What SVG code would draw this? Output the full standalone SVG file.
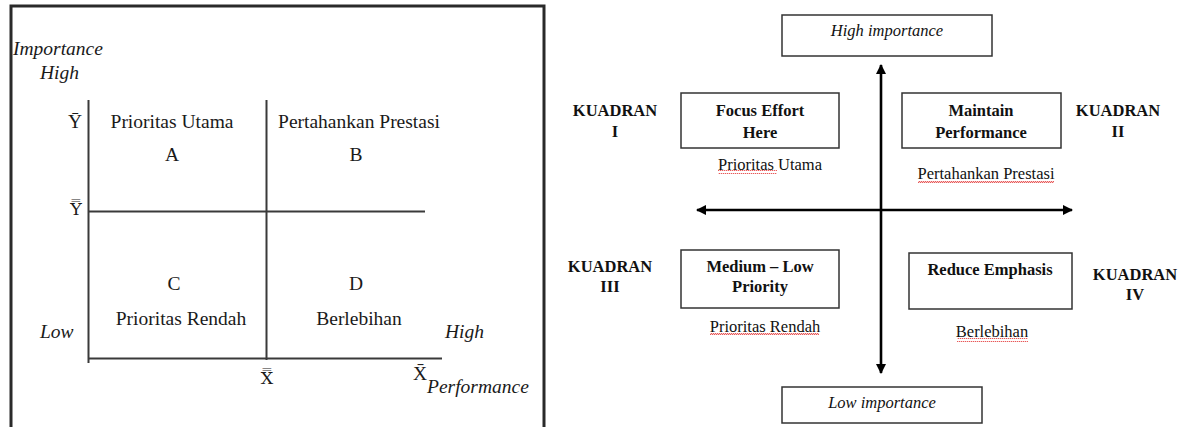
<svg xmlns="http://www.w3.org/2000/svg" width="1183" height="427" viewBox="0 0 1183 427">
<defs>
<style>
.ls{font-family:"Liberation Serif","Times New Roman",serif;font-size:19.5px;fill:#1a1a1a}
.dv{font-family:"DejaVu Serif",serif;font-size:17.5px;fill:#1a1a1a}
.it{font-style:italic}
.mid{text-anchor:middle}
.end{text-anchor:end}
.gl{stroke:#3a3a3a;stroke-width:2;fill:none}
.rs{font-family:"Liberation Serif","Times New Roman",serif;font-size:16.5px;fill:#111}
.b{font-weight:bold}
.box{fill:#fff;stroke:#333;stroke-width:1.5}
.ax{stroke:#000;stroke-width:2.6;fill:none}
.wv{fill:url(#wavy)}
</style>
<marker id="ah" viewBox="0 0 10 10" refX="9" refY="5" markerWidth="4" markerHeight="4" orient="auto-start-reverse" markerUnits="strokeWidth">
<path d="M0 0 L10 5 L0 10 Z" fill="#000"/>
</marker>
<pattern id="wavy" width="4" height="4" patternUnits="userSpaceOnUse">
<path d="M0 3 Q1 0.5 2 2 T4 1" stroke="#e02020" stroke-width="0.9" fill="none"/>
</pattern>
</defs>
<rect width="1183" height="427" fill="#fff"/>

<!-- Left panel -->
<g id="left-frame">
<path d="M11 427 V6 H544 V427" fill="none" stroke="#2a2a2a" stroke-width="3"/>
</g>
<g id="left-axes">
<line class="gl" x1="88.5" y1="100" x2="88.5" y2="363"/>
<line class="gl" x1="88" y1="358.5" x2="442" y2="358.5"/>
<line class="gl" x1="88" y1="211.5" x2="425" y2="211.5"/>
<line class="gl" x1="266.5" y1="100" x2="266.5" y2="360"/>
</g>
<g id="left-labels">
<text class="ls it" x="13" y="55">Importance</text>
<text class="ls it" x="40" y="79">High</text>
<text class="ls end" x="82" y="128">Ȳ</text>
<text class="dv mid" x="76" y="215">Y̿</text>
<text class="ls it" x="40" y="338">Low</text>
<text class="ls it" x="445" y="338">High</text>
<text class="dv mid" x="267" y="384">X̿</text>
<text class="ls" x="413" y="380">X̄</text>
<text class="ls it" x="427" y="393">Performance</text>
</g>
<g id="quad-A">
<text class="ls mid" x="172" y="128">Prioritas Utama</text>
<text class="ls mid" x="172" y="161">A</text>
</g>
<g id="quad-B">
<text class="ls mid" x="359" y="128">Pertahankan Prestasi</text>
<text class="ls mid" x="356" y="161">B</text>
</g>
<g id="quad-C">
<text class="ls mid" x="174" y="290">C</text>
<text class="ls mid" x="181" y="325">Prioritas Rendah</text>
</g>
<g id="quad-D">
<text class="ls mid" x="356" y="290">D</text>
<text class="ls mid" x="359" y="325">Berlebihan</text>
</g>

<!-- Right panel -->
<g id="connectors">
<line class="ax" x1="881" y1="373" x2="881" y2="65" marker-start="url(#ah)" marker-end="url(#ah)"/>
<line class="ax" x1="697" y1="210" x2="1072" y2="210" marker-start="url(#ah)" marker-end="url(#ah)"/>
</g>
<g id="high-importance">
<rect class="box" x="782" y="15" width="210" height="41"/>
<text class="rs it mid" x="887" y="36">High importance</text>
</g>
<g id="low-importance">
<rect class="box" x="782" y="387" width="200" height="36"/>
<text class="rs it mid" x="882" y="408">Low importance</text>
</g>
<g id="kuadran-1">
<text class="rs b mid" x="615" y="116">KUADRAN</text>
<text class="rs b mid" x="615" y="137">I</text>
</g>
<g id="focus-effort">
<rect class="box" x="681" y="93" width="158" height="55"/>
<text class="rs b mid" x="760" y="116">Focus Effort</text>
<text class="rs b mid" x="760" y="138">Here</text>
<text class="rs mid" x="770" y="170">Prioritas Utama</text>
<rect class="wv" x="718" y="170" width="59" height="4"/>
</g>
<g id="kuadran-2">
<text class="rs b mid" x="1118" y="116">KUADRAN</text>
<text class="rs b mid" x="1118" y="137">II</text>
</g>
<g id="maintain-performance">
<rect class="box" x="902" y="93" width="159" height="55"/>
<text class="rs b mid" x="981" y="116">Maintain</text>
<text class="rs b mid" x="981" y="138">Performance</text>
<text class="rs mid" x="986" y="179">Pertahankan Prestasi</text>
<rect class="wv" x="918" y="180" width="136" height="4"/>
</g>
<g id="kuadran-3">
<text class="rs b mid" x="610" y="272">KUADRAN</text>
<text class="rs b mid" x="610" y="292">III</text>
</g>
<g id="medium-low">
<rect class="box" x="681" y="250" width="158" height="58"/>
<text class="rs b mid" x="760" y="272">Medium – Low</text>
<text class="rs b mid" x="760" y="292">Priority</text>
<text class="rs mid" x="765" y="332">Prioritas Rendah</text>
<rect class="wv" x="710" y="333" width="109" height="4"/>
</g>
<g id="kuadran-4">
<text class="rs b mid" x="1135" y="280">KUADRAN</text>
<text class="rs b mid" x="1135" y="300">IV</text>
</g>
<g id="reduce-emphasis">
<rect class="box" x="909" y="253" width="163" height="56"/>
<text class="rs b mid" x="990" y="275">Reduce Emphasis</text>
<text class="rs mid" x="992" y="337">Berlebihan</text>
<rect class="wv" x="957" y="338" width="71" height="4"/>
</g>
</svg>
